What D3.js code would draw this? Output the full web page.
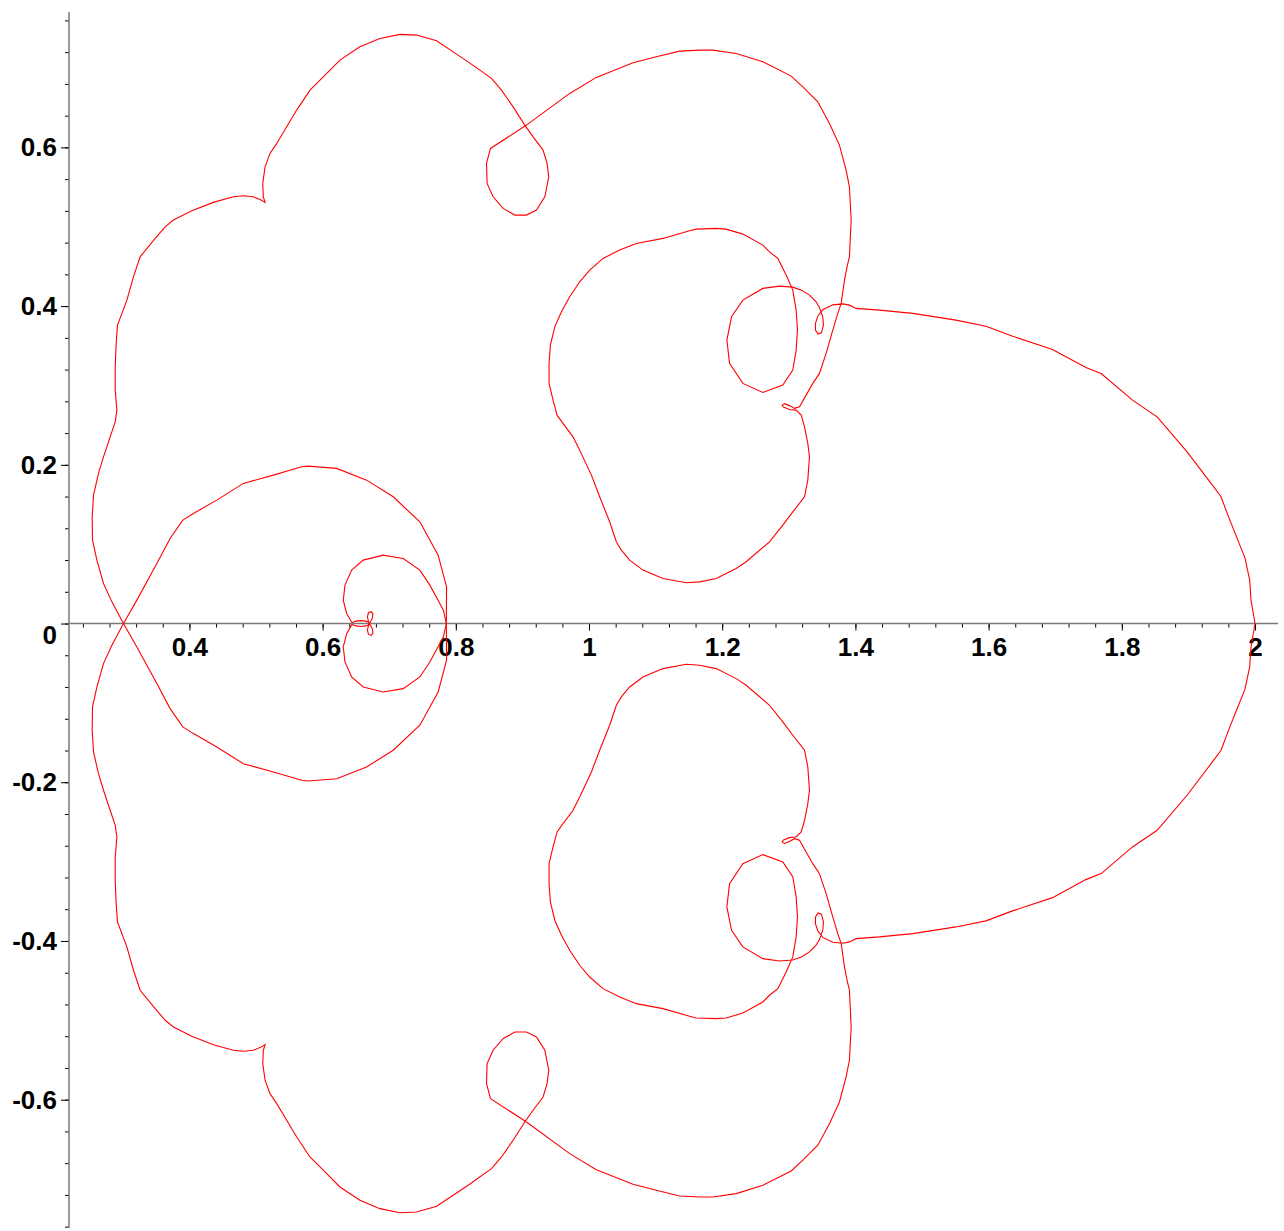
<!DOCTYPE html>
<html>
<head>
<meta charset="utf-8">
<style>
  body { margin: 0; background: #fff; }
  svg { display: block; }
  .tick text { font-family: "Liberation Sans", Arial, sans-serif; font-weight: bold; font-size: 26px; fill: #000; }
</style>
</head>
<body>
<svg width="1284" height="1231"></svg>
<script src="https://cdn.jsdelivr.net/npm/d3@7/dist/d3.min.js"></script>
<script>

// axis ticks and labels
var xMajorTicks = [0.4, 0.6, 0.8, 1, 1.2, 1.4, 1.6, 1.8, 2],
    xTickLabels = ["0.4", "0.6", "0.8", "1", "1.2", "1.4", "1.6", "1.8", "2"];
var yMajorTicks = [0.6, 0.4, 0.2, 0, -0.2, -0.4, -0.6],
    yTickLabels = ["0.6", "0.4", "0.2", "0", "-0.2", "-0.4", "-0.6"];

// curve traced above the axis, starting at (2, 0)
var rightLobeUpper = [[2.0,0],[1.994,0.0295],[1.992,0.0547],[1.985,0.0824],[1.976,0.1013],[1.961,0.1328],[1.949,0.1597],[1.936,0.1744],[1.898,0.2164],[1.853,0.2605],[1.816,0.2815],[1.769,0.3151],[1.746,0.3227],[1.696,0.3454],[1.636,0.3621],[1.596,0.3747],[1.551,0.3823],[1.486,0.3908],[1.436,0.3949],[1.401,0.3971],[1.391,0.4012],[1.381,0.4028],[1.366,0.4016],[1.351,0.3955]];

var ringUpper = [[1.3435,0.3873],[1.340,0.3781],[1.340,0.3697],[1.344,0.3647],[1.349,0.3663],[1.352,0.376],[1.351,0.3865],[1.346,0.3983],[1.341,0.4054],[1.331,0.4138],[1.319,0.4201],[1.306,0.4239],[1.286,0.4252],[1.261,0.4223],[1.231,0.4075],[1.214,0.3865],[1.207,0.3571],[1.211,0.3278],[1.231,0.3026],[1.261,0.2912],[1.291,0.3004],[1.306,0.3193],[1.311,0.3445],[1.313,0.3697],[1.311,0.3949],[1.306,0.4201],[1.296,0.4391]];

var heartUpper = [[1.2835,0.4601],[1.271,0.4684],[1.261,0.4769],[1.231,0.4907],[1.206,0.497],[1.191,0.4979],[1.161,0.497],[1.151,0.4949],[1.111,0.4853],[1.071,0.479],[1.046,0.4706],[1.021,0.4601],[1.001,0.4454],[0.986,0.4306],[0.971,0.4117],[0.9586,0.3928],[0.9486,0.3739],[0.942,0.3508],[0.940,0.3278],[0.940,0.3026],[0.946,0.2815],[0.952,0.2626],[0.961,0.2522],[0.976,0.2353],[0.986,0.2185],[1.0036,0.187],[1.016,0.1597],[1.031,0.1282],[1.041,0.103],[1.0486,0.0925],[1.061,0.0799],[1.081,0.0673],[1.111,0.0568],[1.146,0.0513],[1.166,0.0525],[1.191,0.0568],[1.221,0.0694],[1.236,0.0778],[1.271,0.103],[1.291,0.124],[1.306,0.1408],[1.3236,0.1597],[1.3285,0.1807],[1.331,0.2101],[1.3285,0.227],[1.3236,0.2479],[1.3186,0.2626],[1.311,0.2689],[1.301,0.2698],[1.292,0.2727],[1.290,0.2752],[1.2936,0.2771],[1.301,0.2746],[1.3086,0.2711],[1.316,0.2731]];

var outerArcUpper = [[1.326,0.2878],[1.336,0.3026],[1.346,0.3152],[1.356,0.3404],[1.366,0.3697],[1.3735,0.3908],[1.3786,0.4034],[1.3836,0.4327],[1.388,0.4517],[1.391,0.4621],[1.3936,0.5084],[1.391,0.5503],[1.386,0.5714],[1.376,0.6029],[1.361,0.6302],[1.3435,0.6574],[1.321,0.6763],[1.3036,0.6898],[1.261,0.7078],[1.221,0.7184],[1.186,0.7226],[1.166,0.7226],[1.136,0.7213],[1.101,0.7141],[1.066,0.7066],[1.011,0.6882],[0.971,0.668],[0.9061,0.6281],[0.8521,0.5987],[0.8461,0.5798],[0.847,0.5546],[0.856,0.5377],[0.871,0.5231],[0.8886,0.5147],[0.9061,0.5147],[0.9211,0.521],[0.9336,0.5377],[0.9396,0.5629],[0.937,0.5798],[0.931,0.5966],[0.916,0.6133],[0.9036,0.6281],[0.886,0.6511],[0.8686,0.6722],[0.8536,0.6869]];

var topArcUpper = [[0.8185,0.7078],[0.796,0.7204],[0.7711,0.7343],[0.7411,0.7415],[0.716,0.7424],[0.686,0.7373],[0.656,0.7268],[0.626,0.71],[0.601,0.6889],[0.581,0.6722],[0.5611,0.647],[0.5461,0.6259],[0.5311,0.605],[0.521,0.5924],[0.5136,0.5755],[0.5101,0.5546],[0.511,0.5377],[0.5136,0.5307],[0.506,0.5344],[0.496,0.5377],[0.481,0.539],[0.466,0.5377],[0.436,0.5307],[0.4036,0.5201],[0.376,0.5084],[0.3636,0.4999],[0.3486,0.4853],[0.326,0.4621],[0.316,0.4369],[0.3061,0.4075],[0.296,0.3849]];

var leftSideUpper = [[0.292,0.376],[0.29,0.353],[0.2886,0.3235],[0.2886,0.2941],[0.2911,0.2689],[0.2886,0.2542],[0.281,0.2353],[0.271,0.2101],[0.2635,0.1892],[0.256,0.1618],[0.254,0.1345],[0.2545,0.1051],[0.2611,0.0799],[0.271,0.0505],[0.2836,0.0273],[0.301,0]];

var innerUpper = [[0.3211,-0.0295],[0.3511,-0.0757],[0.371,-0.1072],[0.3901,-0.1303],[0.406,-0.1387],[0.4411,-0.1555],[0.481,-0.1766],[0.526,-0.187],[0.5686,-0.1975],[0.5785,-0.1984],[0.6211,-0.1955],[0.6661,-0.1807],[0.706,-0.1597],[0.746,-0.1282],[0.7735,-0.0862],[0.7861,-0.0462],[0.7858,0],[0.7813,0.0169],[0.776,0.0253],[0.761,0.0484],[0.746,0.0673],[0.721,0.082],[0.691,0.0862],[0.661,0.0799],[0.6436,0.0673],[0.6336,0.0484],[0.631,0.0295],[0.6361,0.0127],[0.644,0.0011],[0.65,0.003],[0.6575,0.0037],[0.665,0.003],[0.671,0.0011],[0.6745,0.0062],[0.6756,0.0118],[0.6733,0.015],[0.6688,0.0137],[0.6673,0.0081],[0.6696,0]];

// curve traced below the axis, starting at (2, 0)
var rightLobeLower = [[2.0,0],[1.994,-0.0295],[1.992,-0.0547],[1.985,-0.0824],[1.976,-0.1013],[1.961,-0.1328],[1.949,-0.1597],[1.936,-0.1744],[1.898,-0.2164],[1.853,-0.2605],[1.816,-0.2815],[1.769,-0.3151],[1.746,-0.3227],[1.696,-0.3454],[1.636,-0.3621],[1.596,-0.3747],[1.551,-0.3823],[1.486,-0.3908],[1.436,-0.3949],[1.401,-0.3971],[1.391,-0.4012],[1.381,-0.4028],[1.366,-0.4016],[1.351,-0.3955]];

var ringLower = [[1.3435,-0.3873],[1.340,-0.3781],[1.340,-0.3697],[1.344,-0.3647],[1.349,-0.3663],[1.352,-0.376],[1.351,-0.3865],[1.346,-0.3983],[1.341,-0.4054],[1.331,-0.4138],[1.319,-0.4201],[1.306,-0.4239],[1.286,-0.4252],[1.261,-0.4223],[1.231,-0.4075],[1.214,-0.3865],[1.207,-0.3571],[1.211,-0.3278],[1.231,-0.3026],[1.261,-0.2912],[1.291,-0.3004],[1.306,-0.3193],[1.311,-0.3445],[1.313,-0.3697],[1.311,-0.3949],[1.306,-0.4201],[1.296,-0.4391]];

var heartLower = [[1.2835,-0.4601],[1.271,-0.4684],[1.261,-0.4769],[1.231,-0.4907],[1.206,-0.497],[1.191,-0.4979],[1.161,-0.497],[1.151,-0.4949],[1.111,-0.4853],[1.071,-0.479],[1.046,-0.4706],[1.021,-0.4601],[1.001,-0.4454],[0.986,-0.4306],[0.971,-0.4117],[0.9586,-0.3928],[0.9486,-0.3739],[0.942,-0.3508],[0.940,-0.3278],[0.940,-0.3026],[0.946,-0.2815],[0.952,-0.2626],[0.961,-0.2522],[0.976,-0.2353],[0.986,-0.2185],[1.0036,-0.187],[1.016,-0.1597],[1.031,-0.1282],[1.041,-0.103],[1.0486,-0.0925],[1.061,-0.0799],[1.081,-0.0673],[1.111,-0.0568],[1.146,-0.0513],[1.166,-0.0525],[1.191,-0.0568],[1.221,-0.0694],[1.236,-0.0778],[1.271,-0.103],[1.291,-0.124],[1.306,-0.1408],[1.3236,-0.1597],[1.3285,-0.1807],[1.331,-0.2101],[1.3285,-0.227],[1.3236,-0.2479],[1.3186,-0.2626],[1.311,-0.2689],[1.301,-0.2698],[1.292,-0.2727],[1.290,-0.2752],[1.2936,-0.2771],[1.301,-0.2746],[1.3086,-0.2711],[1.316,-0.2731]];

var outerArcLower = [[1.326,-0.2878],[1.336,-0.3026],[1.346,-0.3152],[1.356,-0.3404],[1.366,-0.3697],[1.3735,-0.3908],[1.3786,-0.4034],[1.3836,-0.4327],[1.388,-0.4517],[1.391,-0.4621],[1.3936,-0.5084],[1.391,-0.5503],[1.386,-0.5714],[1.376,-0.6029],[1.361,-0.6302],[1.3435,-0.6574],[1.321,-0.6763],[1.3036,-0.6898],[1.261,-0.7078],[1.221,-0.7184],[1.186,-0.7226],[1.166,-0.7226],[1.136,-0.7213],[1.101,-0.7141],[1.066,-0.7066],[1.011,-0.6882],[0.971,-0.668],[0.9061,-0.6281],[0.8521,-0.5987],[0.8461,-0.5798],[0.847,-0.5546],[0.856,-0.5377],[0.871,-0.5231],[0.8886,-0.5147],[0.9061,-0.5147],[0.9211,-0.521],[0.9336,-0.5377],[0.9396,-0.5629],[0.937,-0.5798],[0.931,-0.5966],[0.916,-0.6133],[0.9036,-0.6281],[0.886,-0.6511],[0.8686,-0.6722],[0.8536,-0.6869]];

var topArcLower = [[0.8185,-0.7078],[0.796,-0.7204],[0.7711,-0.7343],[0.7411,-0.7415],[0.716,-0.7424],[0.686,-0.7373],[0.656,-0.7268],[0.626,-0.71],[0.601,-0.6889],[0.581,-0.6722],[0.5611,-0.647],[0.5461,-0.6259],[0.5311,-0.605],[0.521,-0.5924],[0.5136,-0.5755],[0.5101,-0.5546],[0.511,-0.5377],[0.5136,-0.5307],[0.506,-0.5344],[0.496,-0.5377],[0.481,-0.539],[0.466,-0.5377],[0.436,-0.5307],[0.4036,-0.5201],[0.376,-0.5084],[0.3636,-0.4999],[0.3486,-0.4853],[0.326,-0.4621],[0.316,-0.4369],[0.3061,-0.4075],[0.296,-0.3849]];

var leftSideLower = [[0.292,-0.376],[0.29,-0.353],[0.2886,-0.3235],[0.2886,-0.2941],[0.2911,-0.2689],[0.2886,-0.2542],[0.281,-0.2353],[0.271,-0.2101],[0.2635,-0.1892],[0.256,-0.1618],[0.254,-0.1345],[0.2545,-0.1051],[0.2611,-0.0799],[0.271,-0.0505],[0.2836,-0.0273],[0.301,0]];

var innerLower = [[0.3211,0.0295],[0.3511,0.0757],[0.371,0.1072],[0.3901,0.1303],[0.406,0.1387],[0.4411,0.1555],[0.481,0.1766],[0.526,0.187],[0.5686,0.1975],[0.5785,0.1984],[0.6211,0.1955],[0.6661,0.1807],[0.706,0.1597],[0.746,0.1282],[0.7735,0.0862],[0.7861,0.0462],[0.7858,0],[0.7813,-0.0169],[0.776,-0.0253],[0.761,-0.0484],[0.746,-0.0673],[0.721,-0.082],[0.691,-0.0862],[0.661,-0.0799],[0.6436,-0.0673],[0.6336,-0.0484],[0.631,-0.0295],[0.6361,-0.0127],[0.644,-0.0011],[0.65,-0.003],[0.6575,-0.0037],[0.665,-0.003],[0.671,-0.0011],[0.6745,-0.0062],[0.6756,-0.0118],[0.6733,-0.015],[0.6688,-0.0137],[0.6673,-0.0081],[0.6696,0]];

var traces = [
  [].concat(rightLobeUpper, ringUpper, heartUpper, outerArcUpper, topArcUpper, leftSideUpper, innerUpper),
  [].concat(rightLobeLower, ringLower, heartLower, outerArcLower, topArcLower, leftSideLower, innerLower)
];

var svg = d3.select("svg");

var x = d3.scaleLinear()
    .domain([0.2192, 2.0345])
    .range([69, 1278]);

var y = d3.scaleLinear()
    .domain([-0.7617, 0.7706])
    .range([1228, 12]);

// minor ticks every 0.04
var xMinor = d3.range(6, 51).map(function(i) { return i * 0.04; }),
    yMinor = d3.range(-19, 20).map(function(i) { return i * 0.04; });

var gx = svg.append("g").attr("transform", "translate(0," + y(0) + ")");
gx.append("g").call(d3.axisBottom(x).tickValues(xMinor).tickSize(4).tickFormat(""));
gx.append("g").call(d3.axisBottom(x).tickValues(xMajorTicks).tickSize(7)
    .tickFormat(function(d, i) { return xTickLabels[i]; }));
gx.selectAll(".domain").remove();
gx.selectAll(".tick line").attr("stroke", "#000");
gx.selectAll(".tick text").attr("y", 14);

var gy = svg.append("g").attr("transform", "translate(" + x.range()[0] + ",0)");
gy.append("g").call(d3.axisLeft(y).tickValues(yMinor).tickSize(4).tickFormat(""));
gy.append("g").call(d3.axisLeft(y).tickValues(yMajorTicks).tickSize(8)
    .tickFormat(function(d, i) { return yTickLabels[i]; }));
gy.selectAll(".domain").remove();
gy.selectAll(".tick line").attr("stroke", "#000");
gy.selectAll(".tick text").attr("x", -12);
// the "0" label sits just under the horizontal axis
gy.selectAll(".tick text").filter(function(d) { return d === 0; }).attr("dy", "0.71em").attr("y", 1);

// axis lines
svg.append("line")
    .attr("x1", x.range()[0]).attr("x2", x.range()[1])
    .attr("y1", y(0)).attr("y2", y(0))
    .attr("stroke", "#7a7a7a").attr("stroke-width", 1.5);
svg.append("line")
    .attr("x1", x.range()[0]).attr("x2", x.range()[0])
    .attr("y1", y.range()[1]).attr("y2", y.range()[0])
    .attr("stroke", "#7a7a7a").attr("stroke-width", 1.5);

var line = d3.line()
    .x(function(d) { return x(d[0]); })
    .y(function(d) { return y(d[1]); });

svg.selectAll("path.curve")
  .data(traces)
  .enter().append("path")
    .attr("class", "curve")
    .attr("d", line)
    .attr("fill", "none")
    .attr("stroke", "#ff0000")
    .attr("stroke-width", 1.1);

</script>
</body>
</html>
